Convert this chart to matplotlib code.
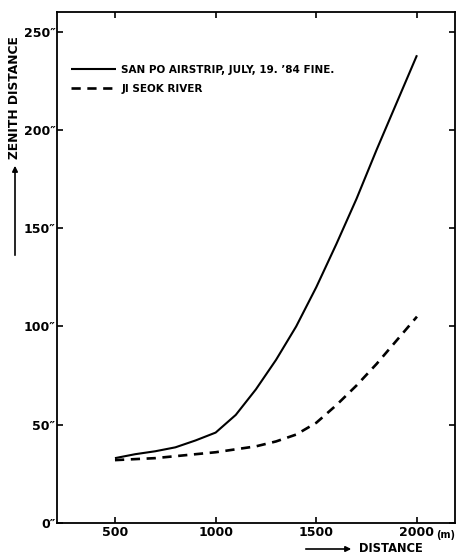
import matplotlib
matplotlib.use("Agg")
import matplotlib.pyplot as plt

# Data
dist = [500, 600, 700, 800, 900, 1000, 1100, 1200, 1300, 1400, 1500, 1600, 1700, 1800, 1900, 2000]
san_po = [33, 35, 36.5, 38.5, 42, 46, 55, 68, 83, 100, 120, 142, 165, 190, 214, 238]
ji_seok = [32, 32.5, 33, 34, 35, 36, 37.5, 39, 41.5, 45, 51, 60, 70, 81, 93, 105]
x_ticks = [500, 1000, 1500, 2000]
x_tick_labels = ["500", "1000", "1500", "2000"]
y_ticks = [0, 50, 100, 150, 200, 250]
y_tick_labels = ["0\u2033", "50\u2033", "100\u2033", "150\u2033", "200\u2033", "250\u2033"]
series_names = ["SAN PO AIRSTRIP, JULY, 19. \u201984 FINE.", "JI SEOK RIVER"]

plt.rcParams['font.family'] = ['DejaVu Sans']
plt.rcParams['font.weight'] = 'bold'

fig = plt.figure(figsize=(4.58, 5.59), dpi=100)
ax = fig.add_axes([57/458, (559-523)/559, 398/458, 511/559])

ax.plot(dist, san_po, color='black', lw=1.5, solid_capstyle='butt', label=series_names[0])
ax.plot(dist, ji_seok, color='black', lw=1.9, linestyle=(0, (3.5, 2.5)), label=series_names[1])

ax.set_xlim(212, 2189)
ax.set_ylim(0, 260)
ax.set_xticks(x_ticks)
ax.set_xticklabels(x_tick_labels, fontsize=9, fontweight='bold')
ax.set_yticks(y_ticks)
ax.set_yticklabels(y_tick_labels, fontsize=9, fontweight='bold')
ax.tick_params(axis='both', direction='in', length=4, width=1.2,
               top=True, right=True, pad=2)
ax.tick_params(axis='y', pad=1)
for s in ax.spines.values():
    s.set_linewidth(1.3)

fig.text(436/458, 1 - 535/559, "(m)", ha='left', va='center',
         fontsize=7, fontweight='bold')

leg = ax.legend(loc='upper left', bbox_to_anchor=(0.025, 0.905), frameon=False,
                fontsize=7.5, handlelength=4.3, handletextpad=0.5,
                labelspacing=0.85, borderaxespad=0.0)
for t in leg.get_texts():
    t.set_fontweight('bold')

# y-axis label with arrow
fig.text(15/458, 1 - 98/559, "ZENITH DISTANCE", rotation=90, ha='center', va='center',
         fontsize=8.8, fontweight='bold')
fig.patches.append(matplotlib.patches.FancyArrowPatch(
    (15/458, 1 - 258/559), (15/458, 1 - 163/559), transform=fig.transFigure,
    arrowstyle='-|>', mutation_scale=8, lw=1.2, color='black'))

# x-axis label with arrow
fig.text(391/458, 1 - 549/559, "DISTANCE", ha='center', va='center',
         fontsize=8.3, fontweight='bold')
fig.patches.append(matplotlib.patches.FancyArrowPatch(
    (303/458, 1 - 549/559), (354/458, 1 - 549/559), transform=fig.transFigure,
    arrowstyle='-|>', mutation_scale=8, lw=1.2, color='black'))

fig.savefig("out.png", dpi=100)
